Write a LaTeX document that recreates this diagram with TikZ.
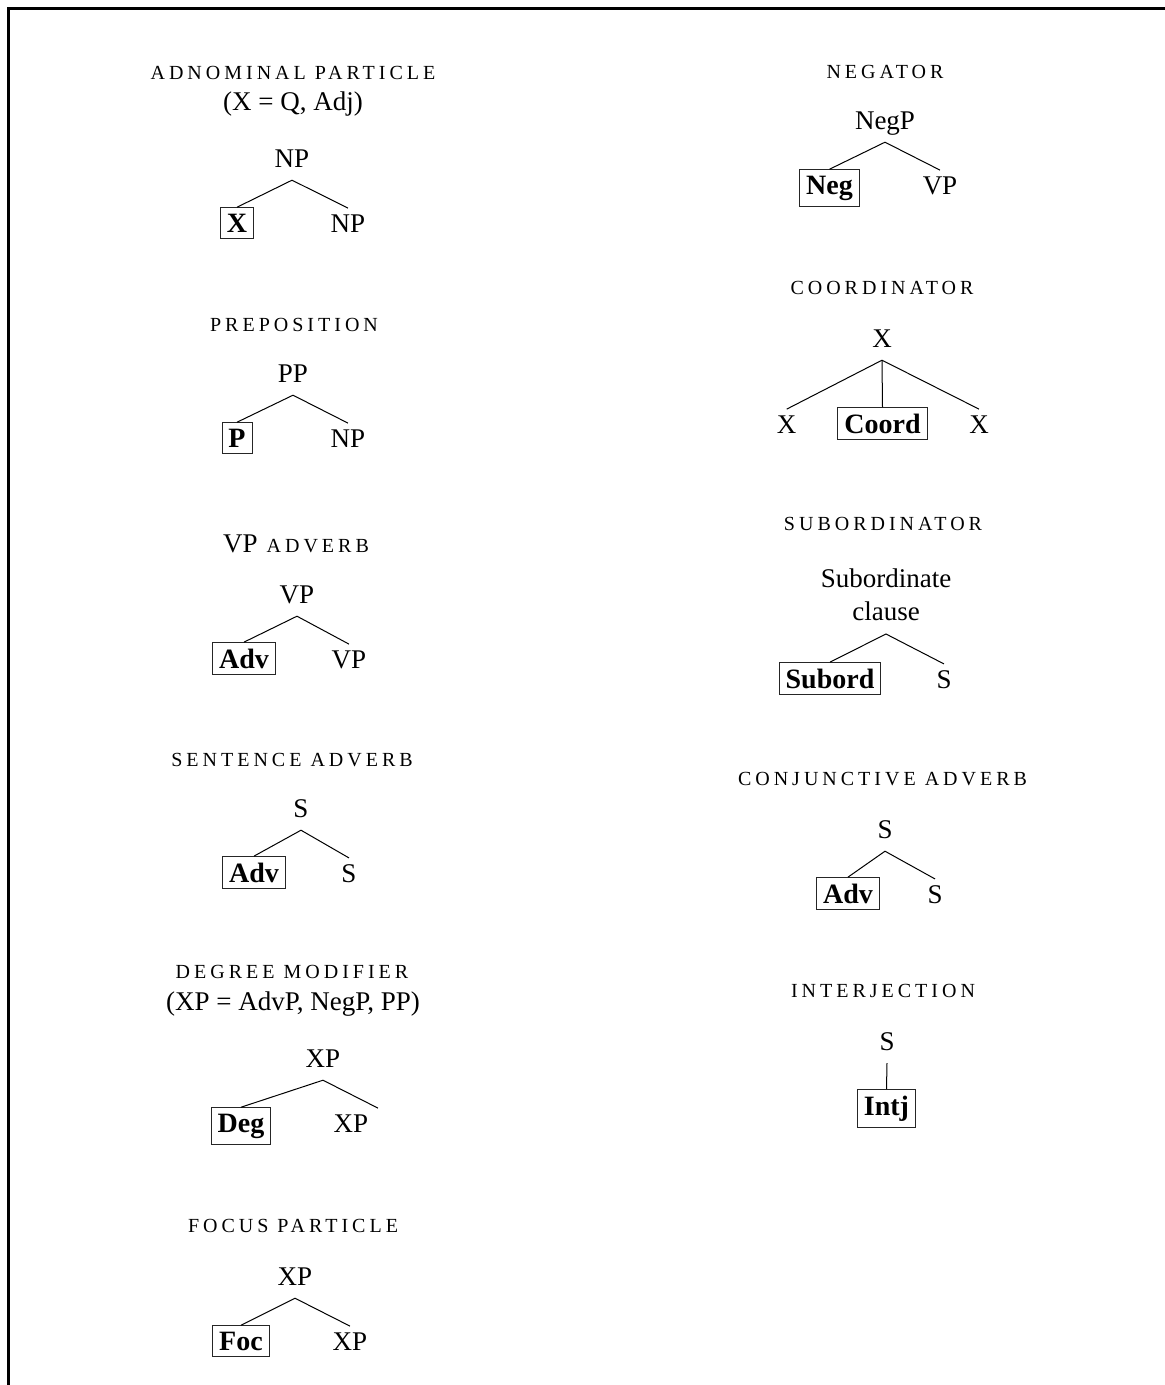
\documentclass[tikz,border=0pt]{standalone}
\usepackage{fontspec}
\setmainfont{Liberation Serif}
\newfontfamily\headfont[LetterSpace=20]{Liberation Serif}
\newcommand\txtsz{\fontsize{27}{33}\selectfont}
\newcommand\boxsz{\fontsize{28}{34}\selectfont}
\newcommand\headsz{\fontsize{20}{24}\selectfont}

\tikzset{
  head/.style={anchor=base, inner sep=0pt, font=\headfont\headsz},
  sub/.style={anchor=base, inner sep=0pt, font=\txtsz},
  root/.style={anchor=base, inner xsep=0pt, inner ysep=13pt, text depth=0pt, font=\txtsz},
  leaf/.style={anchor=base, inner xsep=6.5pt, inner ysep=6pt, font=\txtsz},
  cat/.style={leaf, draw=black!85, line width=0.9pt, font=\boxsz\bfseries},
  branch/.style={line width=1pt},
}

\begin{document}
\begin{tikzpicture}[x=1pt, y=-1pt]
\useasboundingbox (0,0) rectangle (1165,1385);

% Marco
\draw[line width=3pt] (8,1385) -- (8,8) -- (1165,8);

% Titulos
\node[head] (h-adn) at (293,79) {ADNOMINAL PARTICLE};
\node[sub] (h-adn2) at (293,110) {(X = Q, Adj)};
\node[head] (h-pre) at (294,331) {PREPOSITION};
\node[head] (h-vpa) at (296,552) {{\normalfont\txtsz VP} ADVERB};
\node[head] (h-sen) at (292,766) {SENTENCE ADVERB};
\node[head] (h-deg) at (292,978) {DEGREE MODIFIER};
\node[sub] (h-deg2) at (293,1010) {(XP = AdvP, NegP, PP)};
\node[head] (h-foc) at (293,1232) {FOCUS PARTICLE};
\node[head] (h-neg) at (885,78) {NEGATOR};
\node[head] (h-coo) at (882,294) {COORDINATOR};
\node[head] (h-sub) at (883,530) {SUBORDINATOR};
\node[head] (h-con) at (882.5,785.7) {CONJUNCTIVE ADVERB};
\node[head] (h-int) at (883,997) {INTERJECTION};

% Arboles binarios
\foreach \t/\rx/\ry/\rl/\cx/\cl/\sx/\sl/\sh in {
  adn/292/167/NP/237/X/348/NP/0,
  pre/293/382/PP/237/P/348/NP/0,
  vpa/297/603/VP/244/Adv/349/VP/0,
  sen/301/817/S/254/Adv/349/S/0,
  deg/323/1067/XP/241/Deg/351/XP/27,
  foc/295/1285/XP/241/Foc/350/XP/0,
  neg/885/129/NegP/829.5/Neg/940/VP/0,
  con/885/838/S/848/Adv/935/S/0}
{
  \node[root] (\t-r) at (\rx,\ry) {\rl};
  \node[cat] (\t-c) at (\cx,\ry+65) {\cl};
  \node[leaf] (\t-s) at (\sx,\ry+65) {\sl};
  \draw[branch] (\t-c.north) -- (\t-r.south) -- ([xshift=\sh pt]\t-s.north);
}

% Coordinacion
\node[root] (coo-r) at (882,347) {X};
\node[leaf] (coo-a) at (786.7,433) {X};
\node[cat] (coo-c) at (882.5,433) {Coord};
\node[leaf] (coo-b) at (979,433) {X};
\draw[branch] (coo-a.north) -- (coo-r.south) -- (coo-b.north);
\draw[branch] (coo-r.south) -- (coo-c.north);

% Subordinacion
\node[root, align=center, anchor=south] (sub-r) at (886,634) {Subordinate\\clause};
\node[cat] (sub-c) at (830,688) {Subord};
\node[leaf] (sub-s) at (944,688) {S};
\draw[branch] (sub-c.north) -- (sub-r.south) -- (sub-s.north);

% Interjeccion
\node[root] (int-r) at (887,1050) {S};
\node[cat] (int-c) at (886.5,1115) {Intj};
\draw[branch] (int-r.south) -- (int-c.north);

\end{tikzpicture}
\end{document}
